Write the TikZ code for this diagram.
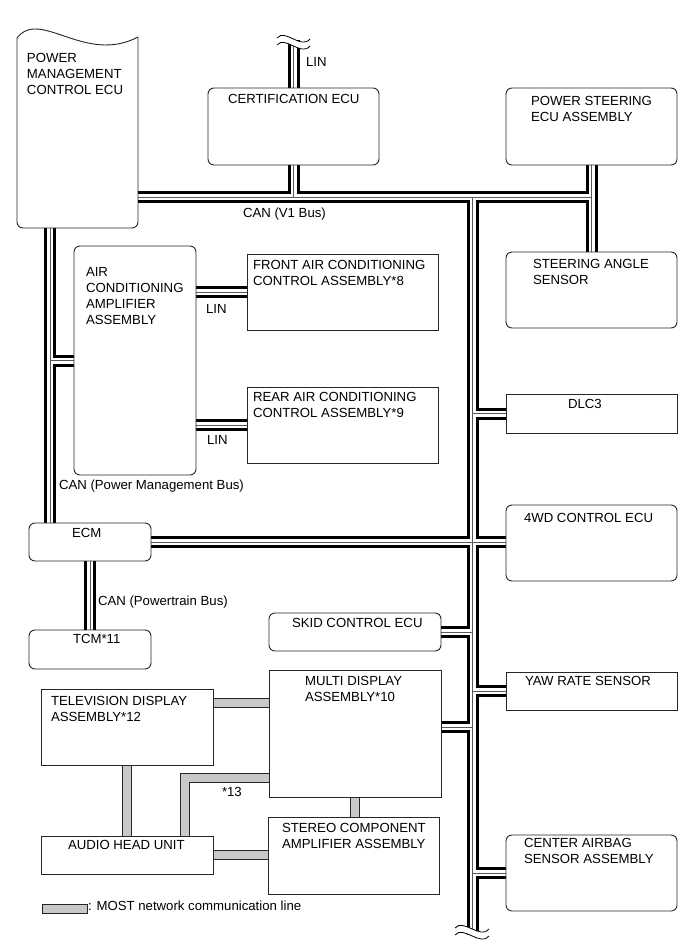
\documentclass[tikz,border=0pt]{standalone}
\usepackage{fontspec}
\setmainfont{Liberation Sans}
\pgfdeclarelayer{bg}
\pgfsetlayers{bg,main}
\definecolor{mostgrey}{RGB}{200,200,200}
\tikzset{
  boxline/.style={draw=black!85, line width=0.9pt},
  box/.style={boxline, inner sep=0pt, outer sep=0pt},
  rbox/.style={box, rounded corners=6pt},
  txt/.style={inner sep=0pt, outer sep=0pt, font=\fontsize{13.2}{16}\selectfont, align=left},
  tl/.style={txt, anchor=north west},
  bl/.style={txt, anchor=base west},
  canblack/.style={line width=12pt, black, line cap=butt},
  canwhite/.style={line width=6pt, white, line cap=butt},
  cancenter/.style={line width=0.8pt, black!65, line cap=butt},
  mostblack/.style={line width=10pt, black!85, line cap=butt, line join=miter},
  mostfill/.style={line width=8pt, mostgrey, line cap=butt, line join=miter},
  brk/.style={line width=0.8pt, black}
}
\begin{document}
\begin{tikzpicture}[x=1pt,y=-1pt]
\useasboundingbox (0,0) rectangle (691,952);

% ---------- boxes ----------
\node[inner sep=0pt, outer sep=0pt, minimum width=121pt, minimum height=195pt] (pmc) at (77.5,130.5) {};
\draw[boxline, rounded corners=6pt] (17,38) -- (17,228) -- (138,228) -- (138,37);
\draw[boxline] (17,38) .. controls (40,8) and (85,65) .. (138,37);

\node[rbox, minimum width=171pt, minimum height=77pt] (cert) at (293.5,126.5) {};
\node[rbox, minimum width=171pt, minimum height=77pt] (ps) at (591.5,126.5) {};
\node[rbox, minimum width=171pt, minimum height=76pt] (sas) at (591.5,290) {};
\node[box, minimum width=171pt, minimum height=39pt] (dlc) at (591.5,413.5) {};
\node[rbox, minimum width=171pt, minimum height=76pt] (wd) at (591.5,543) {};
\node[box, minimum width=171pt, minimum height=38pt] (yaw) at (591.5,691) {};
\node[rbox, minimum width=171pt, minimum height=76pt] (cab) at (591.5,873) {};
\node[rbox, minimum width=122pt, minimum height=229pt] (acamp) at (135,360.5) {};
\node[box, minimum width=191pt, minimum height=76pt] (fac) at (342.5,292) {};
\node[box, minimum width=191pt, minimum height=76pt] (rac) at (342.5,425) {};
\node[rbox, minimum width=122pt, minimum height=38pt] (ecm) at (90,542) {};
\node[rbox, minimum width=122pt, minimum height=39pt] (tcm) at (90,649.5) {};
\node[rbox, minimum width=172pt, minimum height=38pt] (skid) at (355,632) {};
\node[box, minimum width=172pt, minimum height=127pt] (multi) at (355,733.5) {};
\node[box, minimum width=172pt, minimum height=76pt] (tv) at (127,727) {};
\node[box, minimum width=172pt, minimum height=38pt] (audio) at (127,855) {};
\node[box, minimum width=171pt, minimum height=77pt] (stereo) at (353.5,855.5) {};

% ---------- texts ----------
\node[tl] (pmc-t) at (27,53) {POWER\\MANAGEMENT\\CONTROL ECU};
\node[bl] (cert-t) at (228,103.5) {CERTIFICATION ECU};
\node[tl] (ps-t) at (531,96) {POWER STEERING\\ECU ASSEMBLY};
\node[tl] (acamp-t) at (86,267) {AIR\\CONDITIONING\\AMPLIFIER\\ASSEMBLY};
\node[tl] (fac-t) at (253,260.5) {FRONT AIR CONDITIONING\\CONTROL ASSEMBLY*8};
\node[tl] (rac-t) at (253,392.5) {REAR AIR CONDITIONING\\CONTROL ASSEMBLY*9};
\node[tl] (sas-t) at (533,259) {STEERING ANGLE\\SENSOR};
\node[bl] (dlc-t) at (568,408) {DLC3};
\node[bl] (ecm-t) at (72,537) {ECM};
\node[bl] (wd-t) at (524,522) {4WD CONTROL ECU};
\node[bl] (tcm-t) at (73,643) {TCM*11};
\node[bl] (skid-t) at (292,627) {SKID CONTROL ECU};
\node[bl] (yaw-t) at (525,685.5) {YAW RATE SENSOR};
\node[tl] (multi-t) at (305,676) {MULTI DISPLAY\\ASSEMBLY*10};
\node[tl] (tv-t) at (51,696) {TELEVISION DISPLAY\\ASSEMBLY*12};
\node[bl] (audio-t) at (68,849) {AUDIO HEAD UNIT};
\node[tl] (stereo-t) at (282,823) {STEREO COMPONENT\\AMPLIFIER ASSEMBLY};
\node[tl] (cab-t) at (524,838) {CENTER AIRBAG\\SENSOR ASSEMBLY};

% bus labels
\node[bl] (lin-top) at (306,67) {LIN};
\node[bl] (v1-lab) at (243,217) {CAN (V1 Bus)};
\node[bl] (lin-f) at (206,313) {LIN};
\node[bl] (lin-r) at (207,444) {LIN};
\node[bl] (pmb-lab) at (59,489.5) {CAN (Power Management Bus)};
\node[bl] (pt-lab) at (98,605) {CAN (Powertrain Bus)};
\node[bl] (s13) at (222,796) {*13};

% legend
\node[draw=black!85, line width=0.8pt, fill=mostgrey, inner sep=0pt, minimum width=45pt, minimum height=9pt] (leg) at (64.5,908.5) {};
\node[bl] (leg-t) at (88,910) {: MOST network communication line};

% ---------- junction coordinates ----------
\coordinate (jps) at (591.5,197);
\coordinate (jmain) at (472.5,197);
\coordinate (jcert) at (293.5,197);
\coordinate (mainend) at (472.5,935);
\coordinate (linend) at (293.5,40);
\coordinate (lb) at (50,300);
\coordinate (mdb) at (441,727);
\coordinate (mtv) at (240,703);
\coordinate (m13) at (184.5,778);

\def\canpaths{
  (pmc.east |- jps) -- (jps)
  (ps.south) -- (sas.north)
  (cert.south) -- (jcert)
  (jmain) -- (mainend)
  (pmc.south -| lb) -- (ecm.north -| lb)
  (acamp.west -| lb) -- (acamp.west)
  (ecm.east) -- (ecm.east -| wd.west)
  (ecm.south) -- (tcm.north)
  (dlc.west -| jmain) -- (dlc.west)
  (skid.east) -- (skid.east -| jmain)
  (yaw.west -| jmain) -- (yaw.west)
  (mdb) -- (mdb -| jmain)
  (cab.west -| jmain) -- (cab.west)
  (cert.north) -- (linend)
  (acamp.east |- fac.west) -- (fac.west)
  (acamp.east |- rac.west) -- (rac.west)
}
\def\mostpaths{
  (tv.east |- mtv) -- (multi.west |- mtv)
  (tv.south) -- (audio.north)
  (audio.east) -- (audio.east -| stereo.west)
  (audio.north -| m13) -- (m13) -- (multi.west |- m13)
  (multi.south) -- (multi.south |- stereo.north)
}

\begin{pgfonlayer}{bg}
  \draw[canblack] \canpaths;
  \draw[canwhite] \canpaths;
  \draw[cancenter] \canpaths;
  \draw[mostblack] \mostpaths;
  \draw[mostfill] \mostpaths;
\end{pgfonlayer}

% break marks
\fill[white] (277,38) .. controls (285,28) and (301,50) .. (310,39) -- (310,46) .. controls (301,57) and (285,35) .. (277,45) -- cycle;
\draw[brk] (277,38) .. controls (285,28) and (301,50) .. (310,39);
\draw[brk] (277,45) .. controls (285,35) and (301,57) .. (310,46);
\fill[white] (455,928) .. controls (463,918) and (481,940) .. (489,929) -- (489,936) .. controls (481,947) and (463,925) .. (455,935) -- cycle;
\draw[brk] (455,928) .. controls (463,918) and (481,940) .. (489,929);
\draw[brk] (455,935) .. controls (463,925) and (481,947) .. (489,936);
\end{tikzpicture}
\end{document}
